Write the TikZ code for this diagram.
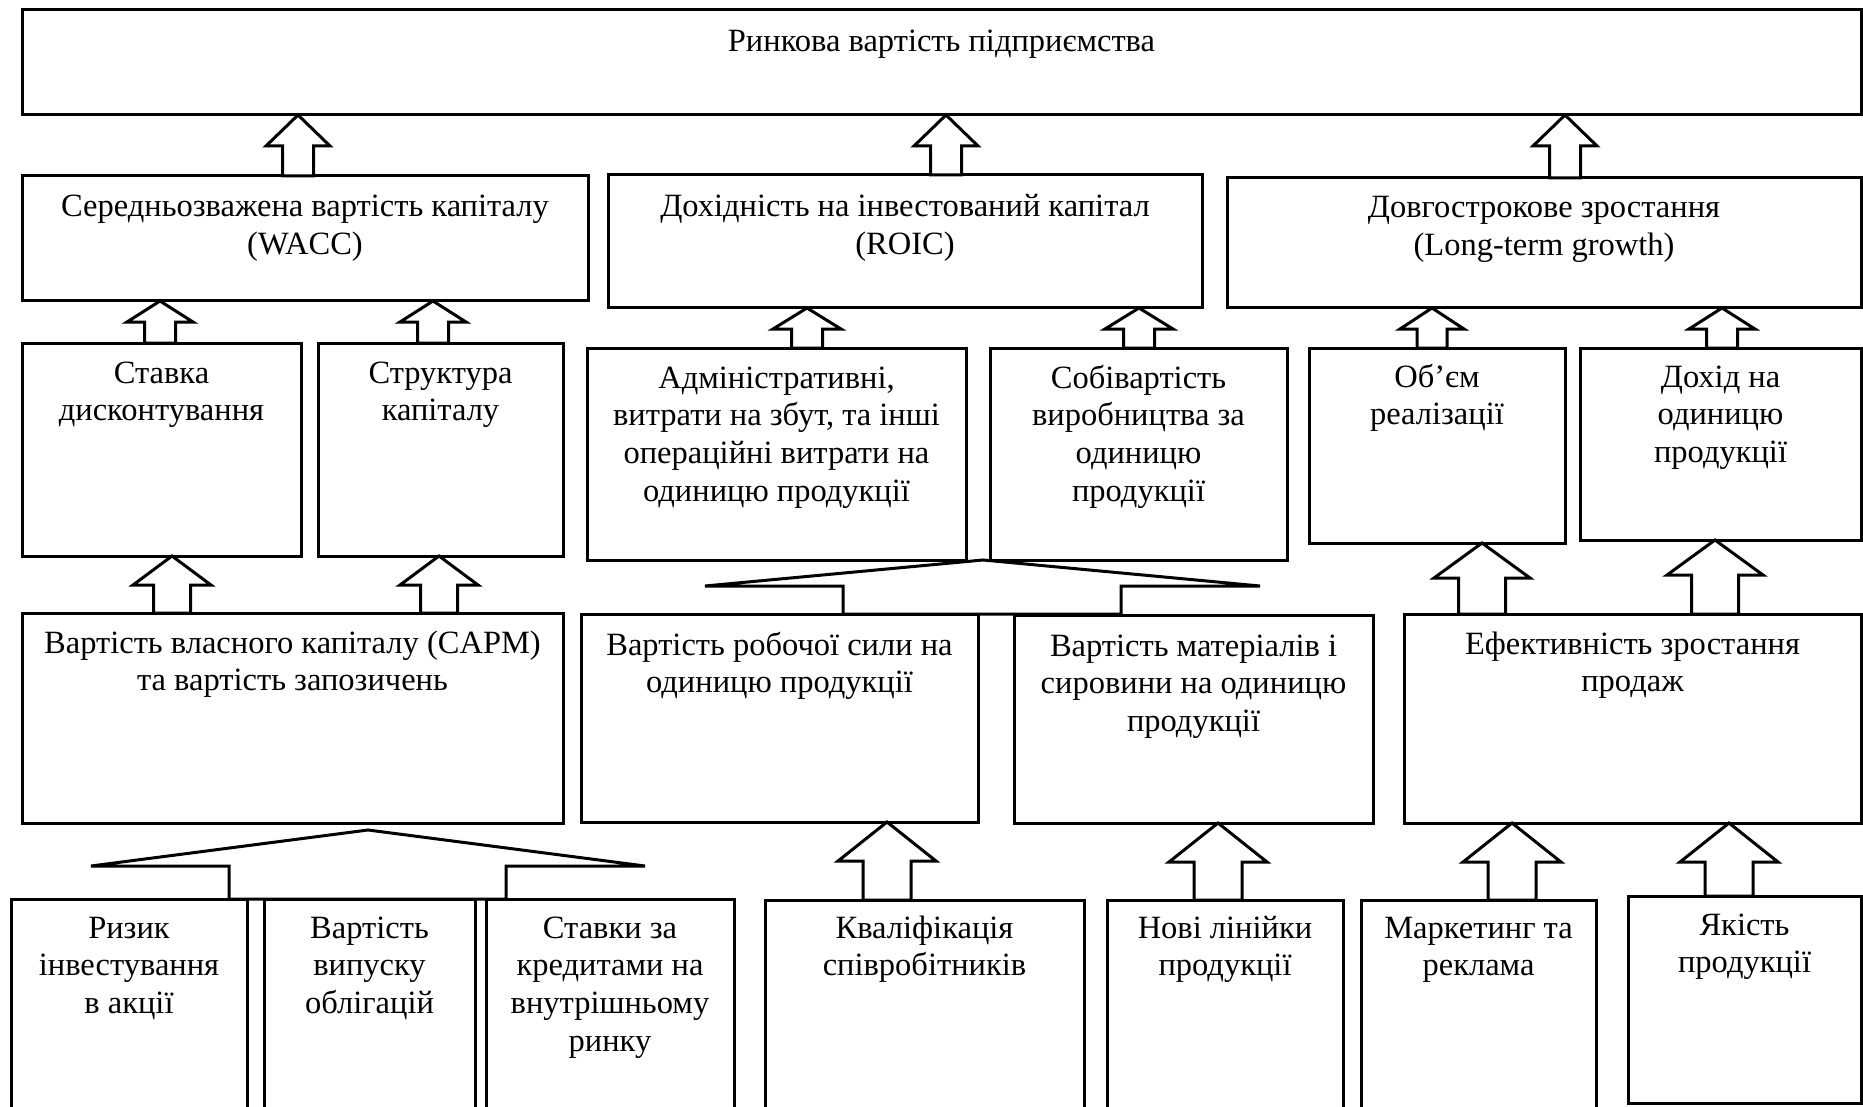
\documentclass[tikz,border=0pt]{standalone}
\usepackage{fontspec}
\setmainfont{Liberation Serif}
\usetikzlibrary{calc}

\tikzset{
  box/.style={draw, line width=3pt, rectangle, inner sep=0pt, outer sep=0pt,
              anchor=north west, fill=white},
  lbl/.style={align=center, inner sep=0pt, outer sep=0pt, anchor=north,
              font=\fontsize{32.5}{37.7}\selectfont},
  blockarrow/.style={draw, fill=white, line width=3pt, line join=miter},
}

% \bx{name}{x1}{y1}{x2}{y2}{first baseline below top}{text}
% the 32pt rule fixes the top of the first line, so the baseline lands at the given offset
\newcommand{\bx}[7]{%
  \node[box, minimum width={(#4-#2)*1pt}, minimum height={(#5-#3)*1pt}] (#1) at (#2,#3) {};
  \node[lbl] (#1-t) at ([yshift={-(#6-32)*1pt}]#1.north) {\rule{0pt}{32pt}#7};
}

% \blkarrow{from}{to}{x}{head length}{head half width}{shaft half width}
\newcommand{\blkarrow}[6]{%
  \draw[blockarrow] let \p1=(#1.north), \p2=(#2.south) in
    ({(#3-#6)*1pt},\y1) -- ({(#3-#6)*1pt},{\y2-#4pt}) -- ({(#3-#5)*1pt},{\y2-#4pt})
    -- (#3pt,\y2)
    -- ({(#3+#5)*1pt},{\y2-#4pt}) -- ({(#3+#6)*1pt},{\y2-#4pt}) -- ({(#3+#6)*1pt},\y1) -- cycle;
}

\begin{document}
\begin{tikzpicture}[x=1pt,y=-1pt]
\useasboundingbox (0,0) rectangle (1863,1107);
\clip (0,0) rectangle (1863,1107);

% level 1
\bx{value}{22}{10}{1861}{115}{42}{Ринкова вартість підприємства}

% level 2
\bx{wacc}{22}{176}{588}{301}{41}{Середньозважена вартість капіталу\\(WACC)}
\bx{roic}{608}{175}{1202}{308}{42}{Дохідність на інвестований капітал\\(ROIC)}
\bx{growth}{1227}{178}{1861}{308}{40}{Довгострокове зростання\\(Long-term growth)}

% level 3
\bx{rate}{22}{343}{301}{556}{40}{Ставка\\дисконтування}
\bx{struct}{318}{343}{563}{556}{40}{Структура\\капіталу}
\bx{admin}{587}{348}{966}{560}{40}{Адміністративні,\\витрати на збут, та інші\\операційні витрати на\\одиницю продукції}
\bx{prodcost}{990}{348}{1287}{560}{40}{Собівартість\\виробництва за\\одиницю\\продукції}
\bx{volume}{1309}{348}{1565}{543}{39}{Об’єм\\реалізації}
\bx{income}{1580}{348}{1861}{540}{39}{Дохід на\\одиницю\\продукції}

% level 4
\bx{equity}{22}{613}{563}{823}{40}{Вартість власного капіталу (CAPM)\\та вартість запозичень}
\bx{labour}{581}{614}{978}{822}{41}{Вартість робочої сили на\\одиницю продукції}
\bx{material}{1014}{615}{1373}{823}{41}{Вартість матеріалів і\\сировини на одиницю\\продукції}
\bx{salesgr}{1404}{614}{1861}{823}{40}{Ефективність зростання\\продаж}

% level 5
\bx{risk}{11}{899}{247}{1125}{39}{Ризик\\інвестування\\в акції}
\bx{bonds}{264}{899}{475}{1125}{39}{Вартість\\випуску\\облігацій}
\bx{credit}{486}{899}{734}{1125}{39}{Ставки за\\кредитами на\\внутрішньому\\ринку}
\bx{skill}{765}{900}{1084}{1125}{38}{Кваліфікація\\співробітників}
\bx{lines}{1107}{900}{1343}{1125}{38}{Нові лінійки\\продукції}
\bx{market}{1361}{900}{1596}{1125}{38}{Маркетинг та\\реклама}
\bx{quality}{1628}{896}{1861}{1103}{39}{Якість\\продукції}

% level 2 -> level 1
\blkarrow{wacc}{value}{298}{31}{32}{15.5}
\blkarrow{roic}{value}{946}{31}{32}{15.5}
\blkarrow{growth}{value}{1565}{31}{32}{15.5}

% level 3 -> level 2
\blkarrow{rate}{wacc}{160}{21}{33}{15.5}
\blkarrow{struct}{wacc}{433}{21}{33}{15.5}
\blkarrow{admin}{roic}{807}{21}{34}{15.5}
\blkarrow{prodcost}{roic}{1139}{21}{34}{15.5}
\blkarrow{volume}{growth}{1432}{21}{32}{15}
\blkarrow{income}{growth}{1722}{21}{33}{15.5}

% level 4 -> level 3
\blkarrow{equity}{rate}{172}{29}{39}{18.5}
\blkarrow{equity}{struct}{439}{29}{39}{18.5}
\blkarrow{salesgr}{volume}{1482}{35}{48}{23.5}
\blkarrow{salesgr}{income}{1715}{35}{48}{23.5}

% level 5 -> level 4
\blkarrow{skill}{labour}{887}{39}{49}{24}
\blkarrow{lines}{material}{1218}{39}{49}{24}
\blkarrow{market}{salesgr}{1512}{39}{49}{24}
\blkarrow{quality}{salesgr}{1729}{39}{49}{24}

% joint arrow: three factors -> equity and debt cost
\draw[blockarrow] let \p1=(equity.south), \p2=(risk.north) in
  (229pt,\y2) -- (229pt,{\y1-43pt}) -- (91pt,{\y1-43pt}) -- (368pt,{\y1-7pt})
  -- (645pt,{\y1-43pt}) -- (506pt,{\y1-43pt}) -- (506pt,\y2) -- cycle;

% joint arrow: labour and materials -> unit costs
\draw[blockarrow] let \p1=(admin.south), \p2=(labour.north) in
  (843pt,\y2) -- (843pt,{\y1-26pt}) -- (705pt,{\y1-26pt}) -- (983pt,\y1)
  -- (1260pt,{\y1-26pt}) -- (1121pt,{\y1-26pt}) -- (1121pt,\y2) -- cycle;

\end{tikzpicture}
\end{document}
